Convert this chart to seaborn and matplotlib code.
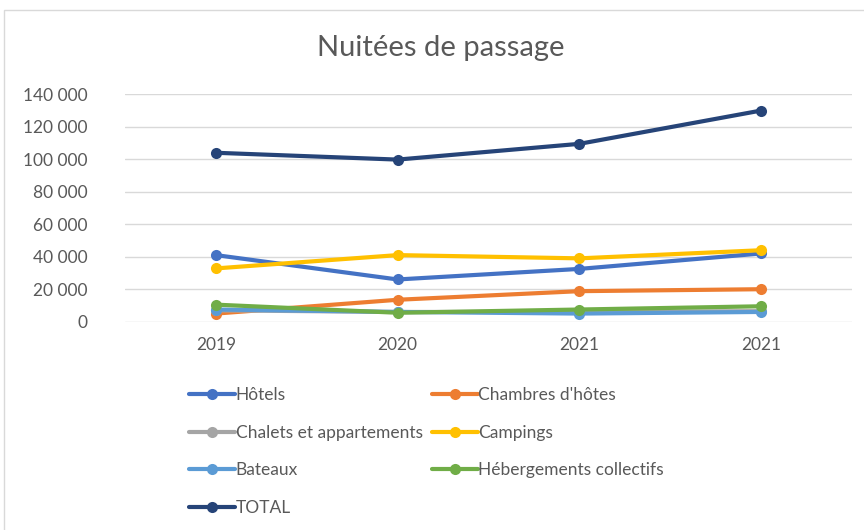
import matplotlib
matplotlib.use("Agg")
import matplotlib.pyplot as plt
from matplotlib.patches import Rectangle
from matplotlib.ticker import FuncFormatter
import pandas as pd
import seaborn as sns

# Year labels (the last column repeats "2021")
years = ["2019", "2020", "2021", "2021"]

series_names = [
    "Hôtels",
    "Chambres d'hôtes",
    "Chalets et appartements",
    "Campings",
    "Bateaux",
    "Hébergements collectifs",
    "TOTAL",
]

hotels = [41000, 26000, 32500, 42000]
chambres = [5000, 13500, 18800, 20000]
chalets = [7000, 6000, 6000, 6500]
campings = [32800, 41000, 39000, 44000]
bateaux = [7500, 6000, 5000, 6000]
hebergements = [10500, 5500, 7500, 9500]
total = [104000, 99800, 109500, 130000]

colors = ["#4472C4", "#ED7D31", "#A5A5A5", "#FFC000", "#5B9BD5", "#70AD47", "#264478"]

values = [hotels, chambres, chalets, campings, bateaux, hebergements, total]

rows = []
for name, vals in zip(series_names, values):
    for i, v in enumerate(vals):
        rows.append({"pos": i, "serie": name, "valeur": v})
df = pd.DataFrame(rows)

sns.set_theme(style="white")
plt.rcParams["font.family"] = ["Lato", "DejaVu Sans"]
text_color = "#595959"

fig = plt.figure(figsize=(8.64, 5.30), dpi=100)
ax = fig.add_axes([125 / 864, 1 - 321.7 / 530, (852 - 125) / 864, (321.7 - 94.3) / 530])

palette = dict(zip(series_names, colors))
for name in series_names:
    sns.lineplot(
        data=df[df["serie"] == name], x="pos", y="valeur",
        color=palette[name], linewidth=3.0, marker="o", markersize=8,
        markeredgewidth=0, ax=ax, label=name, legend=False, zorder=3,
    )

ax.set_xlim(-0.5, 3.5)
ax.set_ylim(0, 140000)
ax.set_yticks(range(0, 140001, 20000))
ax.yaxis.set_major_formatter(FuncFormatter(lambda v, p: f"{int(v):,}".replace(",", " ")))
ax.set_xticks(range(len(years)))
ax.set_xticklabels(years)
ax.set_xlabel("")
ax.set_ylabel("")
ax.grid(axis="y", color="#D9D9D9", linewidth=1.0, zorder=0)
ax.grid(axis="x", visible=False)
for s in ax.spines.values():
    s.set_visible(False)
ax.tick_params(axis="y", length=0, pad=27, labelsize=12.5, labelcolor=text_color)
ax.tick_params(axis="x", length=0, pad=11, labelsize=12.5, labelcolor=text_color)

fig.text(441 / 864, 1 - 48 / 530, "Nuitées de passage", ha="center", va="center",
         fontsize=21, color=text_color)

# Chart frame
fig.patches.append(Rectangle((4 / 864, -0.1), 1.2, 1.1 - 10 / 530,
                             transform=fig.transFigure, fill=False,
                             edgecolor="#D9D9D9", linewidth=1.0))

handles, labels = ax.get_legend_handles_labels()
hmap = dict(zip(labels, handles))
order = ["Hôtels", "Chalets et appartements", "Bateaux", "TOTAL",
         "Chambres d'hôtes", "Campings", "Hébergements collectifs"]
leg = fig.legend([hmap[o] for o in order], order, loc="upper left",
                 bbox_to_anchor=(182 / 864, 1 - 380 / 530), ncol=2, frameon=False,
                 fontsize=12.5, handlelength=2.65, handletextpad=0.05,
                 columnspacing=0.5, labelspacing=1.25, borderaxespad=0)
for t in leg.get_texts():
    t.set_color(text_color)

fig.savefig("out.png", dpi=100, facecolor="white")
